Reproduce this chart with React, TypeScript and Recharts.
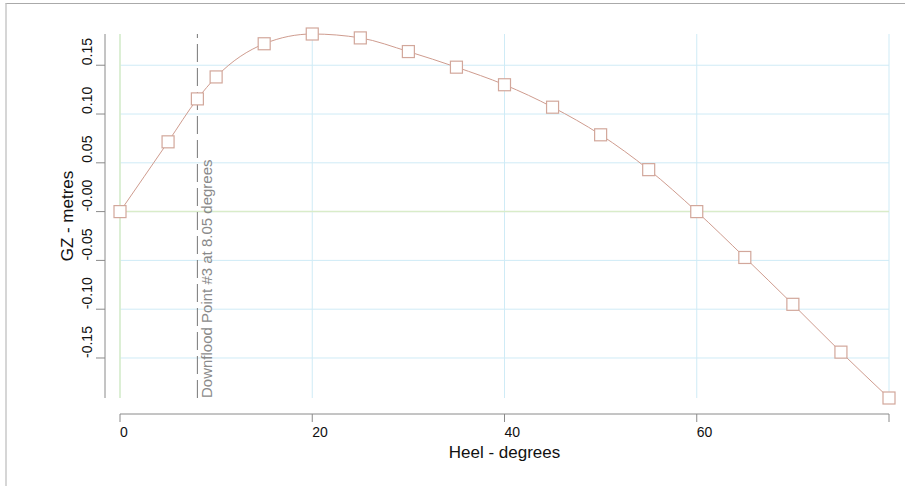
import React from 'react';
import { LineChart, Line, XAxis, YAxis, CartesianGrid, ReferenceLine } from 'recharts';

// Righting lever curve (GZ) vs heel angle
const heelAngles = [0, 5, 8.05, 10, 15, 20, 25, 30, 35, 40, 45, 50, 55, 60, 65, 70, 75, 80];
const gzValues = [
  0, 0.0715, 0.1155, 0.138, 0.172, 0.182, 0.178, 0.164, 0.148, 0.13, 0.107, 0.0787, 0.043,
  0, -0.047, -0.095, -0.144, -0.191,
];
const xTicks = [0, 20, 40, 60, 80];
const xTickLabels = ['0', '20', '40', '60', ''];
const yTicks = [-0.15, -0.1, -0.05, 0, 0.05, 0.1, 0.15];
const yTickLabels = ['-0.15', '-0.10', '-0.05', '-0.00', '0.05', '0.10', '0.15'];
const downfloodAngle = 8.05;
const downfloodLabel = 'Downflood Point #3 at 8.05 degrees';

const chartData = heelAngles.map((heel, i) => ({ heel, gz: gzValues[i] }));

const FONT = '"Liberation Sans", Arial, sans-serif';
const AXIS_GREY = '#8a8a8a';
const CURVE = '#cf9c8f';

const SquareDot = (props: any) => {
  const { cx, cy, index } = props;
  if (cx == null || cy == null) return null;
  return (
    <rect
      key={`sq-${index}`}
      x={cx - 6}
      y={cy - 6}
      width={12}
      height={12}
      fill="#ffffff"
      stroke="#d2a79b"
      strokeWidth={1.2}
    />
  );
};

const XTick = (props: any) => {
  const { x, y, payload } = props;
  const i = xTicks.indexOf(payload.value);
  return (
    <g>
      <line x1={x} x2={x} y1={y + 16} y2={y + 24} stroke={AXIS_GREY} />
      <text x={x} y={y + 39} textAnchor="start" fontSize={14} fontFamily={FONT} fill="#111">
        {xTickLabels[i]}
      </text>
    </g>
  );
};

const YTick = (props: any) => {
  const { x, y, payload } = props;
  const i = yTicks.indexOf(payload.value);
  return (
    <g>
      <line x1={x - 24} x2={x - 15} y1={y} y2={y} stroke={AXIS_GREY} />
      <text
        x={x - 28}
        y={y}
        transform={`rotate(-90, ${x - 28}, ${y})`}
        textAnchor="start"
        fontSize={14}
        fontFamily={FONT}
        fill="#111"
      >
        {yTickLabels[i]}
      </text>
    </g>
  );
};

export default function App() {
  return (
    <div style={{ position: 'absolute', left: 0, top: 0, width: 905, height: 486, background: '#fff' }}>
      <div
        style={{
          position: 'absolute',
          left: 5,
          top: 3,
          width: 910,
          height: 490,
          borderTop: '1px solid #aaaaaa',
          borderLeft: '2px solid #d6d6d6',
        }}
      />
      <div style={{ position: 'absolute', left: 0, top: 0 }}>
        <LineChart
          width={905}
          height={486}
          data={chartData}
          margin={{ top: 34, right: 16, bottom: 0, left: 0 }}
        >
          <CartesianGrid stroke="#cfebf6" horizontalValues={yTicks} verticalValues={xTicks} />
          <XAxis
            type="number"
            dataKey="heel"
            domain={[0, 80]}
            ticks={xTicks}
            interval={0}
            height={88}
            tickSize={0}
            tickMargin={0}
            tickLine={false}
            tick={<XTick />}
            axisLine={{ stroke: AXIS_GREY, transform: 'translate(0,16)' }}
            label={{
              value: 'Heel - degrees',
              position: 'insideBottom',
              offset: 28,
              fontSize: 17,
              fontFamily: FONT,
              fill: '#111',
            }}
          />
          <YAxis
            type="number"
            domain={['dataMin', 'dataMax']}
            ticks={yTicks}
            interval={0}
            width={120}
            tickSize={0}
            tickMargin={0}
            tickLine={false}
            tick={<YTick />}
            axisLine={{ stroke: AXIS_GREY, transform: 'translate(-15,0)' }}
            label={{
              content: (p: any) => {
                const vb = p.viewBox;
                const cy = vb.y + vb.height / 2;
                return (
                  <text
                    x={73}
                    y={cy}
                    transform={`rotate(-90, 73, ${cy})`}
                    textAnchor="middle"
                    fontSize={17}
                    fontFamily={FONT}
                    fill="#111"
                  >
                    GZ - metres
                  </text>
                );
              },
            }}
          />
          <ReferenceLine y={0} stroke="#d9ecc9" strokeWidth={1.5} />
          <ReferenceLine x={0} stroke="#d9ecc9" strokeWidth={1.5} />
          <ReferenceLine
            x={downfloodAngle}
            stroke="#777777"
            strokeDasharray="18 6"
            label={{
              content: (p: any) => {
                const vb = p.viewBox;
                const tx = vb.x + 15;
                const ty = vb.y + vb.height;
                return (
                  <text
                    x={tx}
                    y={ty}
                    transform={`rotate(-90, ${tx}, ${ty})`}
                    textAnchor="start"
                    fontSize={15}
                    fontFamily={FONT}
                    fill="#8a8a8a"
                  >
                    {downfloodLabel}
                  </text>
                );
              },
            }}
          />
          <Line
            type="monotone"
            dataKey="gz"
            stroke={CURVE}
            strokeWidth={1}
            dot={<SquareDot />}
            activeDot={false}
            isAnimationActive={false}
          />
        </LineChart>
      </div>
    </div>
  );
}
